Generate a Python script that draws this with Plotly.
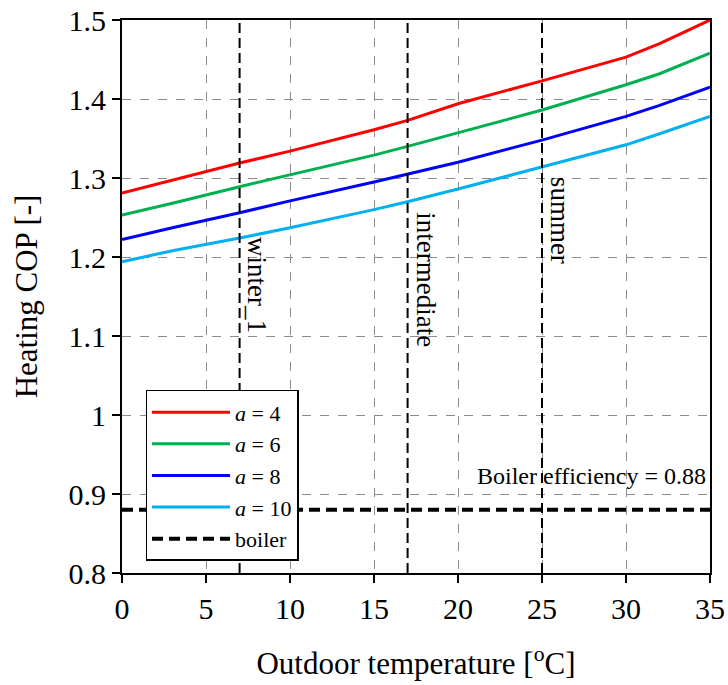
import plotly.graph_objects as go

# Outdoor temperature sample points [°C]
temps = [0, 3, 7, 10, 15, 17, 20, 25, 30, 32, 35]

# Heating COP for each value of a
cop_a4 = [1.281, 1.297, 1.319, 1.334, 1.361, 1.373, 1.394, 1.423, 1.453, 1.470, 1.500]
cop_a6 = [1.253, 1.268, 1.289, 1.304, 1.329, 1.340, 1.357, 1.386, 1.418, 1.432, 1.458]
cop_a8 = [1.222, 1.237, 1.256, 1.271, 1.295, 1.305, 1.320, 1.348, 1.378, 1.392, 1.415]
cop_a10 = [1.194, 1.208, 1.224, 1.237, 1.260, 1.270, 1.286, 1.314, 1.342, 1.356, 1.378]

series_names = ["<i>a</i> = 4", "<i>a</i> = 6", "<i>a</i> = 8", "<i>a</i> = 10"]
series_values = [cop_a4, cop_a6, cop_a8, cop_a10]
series_colors = ["#ff0000", "#00b050", "#0000ff", "#00b0f0"]

boiler_eff = 0.88

# Representative season temperatures
season_temps = [7, 17, 25]
season_names = ["winter_1", "intermediate", "summer"]
season_label_y = [1.165, 1.171, 1.247]

x_ticks = [0, 5, 10, 15, 20, 25, 30, 35]
y_ticks = [0.8, 0.9, 1.0, 1.1, 1.2, 1.3, 1.4, 1.5]
y_ticktext = ["0.8", "0.9", "1", "1.1", "1.2", "1.3", "1.4", "1.5"]

FONT = "Liberation Serif, Times New Roman, serif"

fig = go.Figure()

for name, vals, col in zip(series_names, series_values, series_colors):
    fig.add_trace(go.Scatter(x=temps, y=vals, mode="lines", name=name,
                             line=dict(color=col, width=3)))

fig.add_trace(go.Scatter(x=[temps[0], temps[-1]], y=[boiler_eff, boiler_eff],
                         mode="lines", name="boiler",
                         line=dict(color="black", width=4, dash="11px,6px")))

# Season marker lines and labels
for t, lbl, ly in zip(season_temps, season_names, season_label_y):
    fig.add_trace(go.Scatter(x=[t, t], y=[y_ticks[0], y_ticks[-1]], mode="lines",
                             showlegend=False, hoverinfo="skip",
                             line=dict(color="black", width=2, dash="10px,5px")))
    fig.add_annotation(x=t, y=ly, text=lbl, textangle=90, showarrow=False,
                       xanchor="left", yanchor="middle", xshift=1,
                       font=dict(family=FONT, size=27, color="black"))

fig.add_annotation(x=34.9, y=boiler_eff, text=f"Boiler efficiency = {boiler_eff}",
                   showarrow=False, xanchor="right", yanchor="bottom", yshift=19,
                   font=dict(family=FONT, size=24, color="black"))

axis_common = dict(
    showline=True, linecolor="black", linewidth=2, mirror=True,
    ticks="outside", ticklen=8, tickwidth=2, tickcolor="black",
    showgrid=True, gridcolor="#8c8c8c", gridwidth=1, griddash="dash",
    zeroline=False, automargin=False,
    tickfont=dict(family=FONT, size=30, color="black"),
)

fig.update_xaxes(range=[0, 35], tickvals=x_ticks, **axis_common,
                 title=dict(text="Outdoor temperature [<sup>o</sup>C]", standoff=28,
                            font=dict(family=FONT, size=31, color="black")))
fig.update_yaxes(range=[0.8, 1.5], tickvals=y_ticks, ticktext=y_ticktext, **axis_common,
                 title=dict(text="Heating COP [-]", standoff=22,
                            font=dict(family=FONT, size=31, color="black")))

fig.update_layout(
    width=728, height=685,
    margin=dict(l=122, r=18, t=20, b=112),
    plot_bgcolor="white", paper_bgcolor="white",
    font=dict(family=FONT, color="black"),
    legend=dict(x=0.04, y=0.331, xanchor="left", yanchor="top",
                bgcolor="white", bordercolor="black", borderwidth=1.5,
                font=dict(family=FONT, size=22, color="black"),
                tracegroupgap=0, itemwidth=78),
)

fig.write_html("out.html")
